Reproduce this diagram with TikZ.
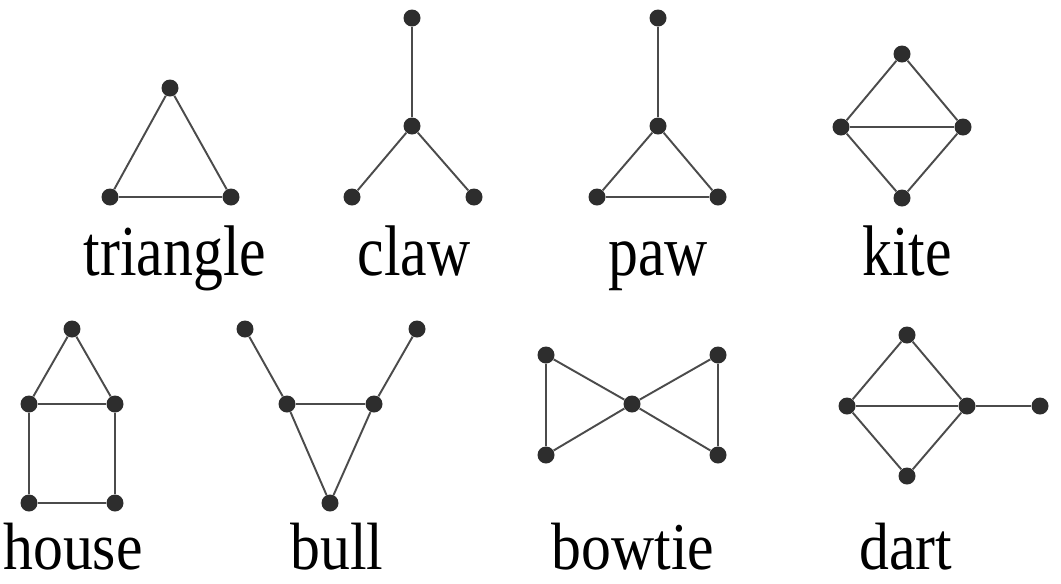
\documentclass[tikz,border=0pt]{standalone}
\usepackage{fontspec}
\setmainfont{Liberation Serif}
\usepackage{graphicx}
\usepackage{xcolor}
\usepackage{tikz}
\definecolor{vertgray}{RGB}{45,45,45}
\definecolor{edgegray}{RGB}{75,75,75}
\newcommand{\tall}[1]{\scalebox{1}[1.2]{#1}}
\newcommand{\lowtall}[1]{\scalebox{1}[1.12]{#1}}

\begin{document}
\begin{tikzpicture}[
  x=0.02cm, y=-0.02cm,
  vert/.style={circle, fill=vertgray, draw=none, inner sep=0pt, minimum width=0.32cm, minimum height=0.34cm},
  link/.style={draw=edgegray, line width=1.1pt},
  gname/.style={anchor=base, font=\fontsize{34}{40}\selectfont, inner sep=0pt}
]
\useasboundingbox (0,0) rectangle (1061,583);

% top row
\node[vert] (t1) at (170,88) {};
\node[vert] (t2) at (110,197) {};
\node[vert] (t3) at (231,197) {};
\node[gname] (triangle) at (175,275) {\tall{triangle}};

\node[vert] (c0) at (412,126) {};
\node[vert] (c1) at (412,18) {};
\node[vert] (c2) at (352,197) {};
\node[vert] (c3) at (474,197) {};
\node[gname] (claw) at (414,275) {\tall{claw}};

\node[vert] (p0) at (658,126) {};
\node[vert] (p1) at (658,18) {};
\node[vert] (p2) at (597,197) {};
\node[vert] (p3) at (718,197) {};
\node[gname] (paw) at (658,275) {\tall{paw}};

\node[vert] (k1) at (902,54) {};
\node[vert] (k2) at (841,127) {};
\node[vert] (k3) at (963,127) {};
\node[vert] (k4) at (902,198) {};
\node[gname] (kite) at (907,275) {\tall{kite}};

% bottom row
\node[vert] (h1) at (72,329) {};
\node[vert] (h2) at (29,404) {};
\node[vert] (h3) at (115,404) {};
\node[vert] (h4) at (29,503) {};
\node[vert] (h5) at (115,503) {};
\node[gname] (house) at (73,569) {\lowtall{house}};

\node[vert] (b1) at (245,329) {};
\node[vert] (b2) at (417,329) {};
\node[vert] (b3) at (287,404) {};
\node[vert] (b4) at (374,404) {};
\node[vert] (b5) at (330,503) {};
\node[gname] (bull) at (337,569) {\lowtall{bull}};

\node[vert] (w0) at (632,404) {};
\node[vert] (w1) at (546,355) {};
\node[vert] (w2) at (546,455) {};
\node[vert] (w3) at (718,355) {};
\node[vert] (w4) at (718,455) {};
\node[gname] (bowtie) at (633,569) {\lowtall{bowtie}};

\node[vert] (d1) at (907,335) {};
\node[vert] (d2) at (847,406) {};
\node[vert] (d3) at (967,406) {};
\node[vert] (d4) at (907,476) {};
\node[vert] (d5) at (1040,406) {};
\node[gname] (dart) at (906,569) {\lowtall{dart}};

% edges
\draw[link] (t1) -- (t2) -- (t3) -- (t1);
\draw[link] (c0) -- (c1);
\draw[link] (c0) -- (c2);
\draw[link] (c0) -- (c3);
\draw[link] (p1) -- (p0);
\draw[link] (p0) -- (p2) -- (p3) -- (p0);
\draw[link] (k1) -- (k2) -- (k4) -- (k3) -- (k1);
\draw[link] (k2) -- (k3);
\draw[link] (h1) -- (h2) -- (h4) -- (h5) -- (h3) -- (h1);
\draw[link] (h2) -- (h3);
\draw[link] (b1) -- (b3);
\draw[link] (b2) -- (b4);
\draw[link] (b3) -- (b4) -- (b5) -- (b3);
\draw[link] (w0) -- (w1) -- (w2) -- (w0);
\draw[link] (w0) -- (w3) -- (w4) -- (w0);
\draw[link] (d1) -- (d2) -- (d4) -- (d3) -- (d1);
\draw[link] (d2) -- (d3);
\draw[link] (d3) -- (d5);
\end{tikzpicture}
\end{document}
